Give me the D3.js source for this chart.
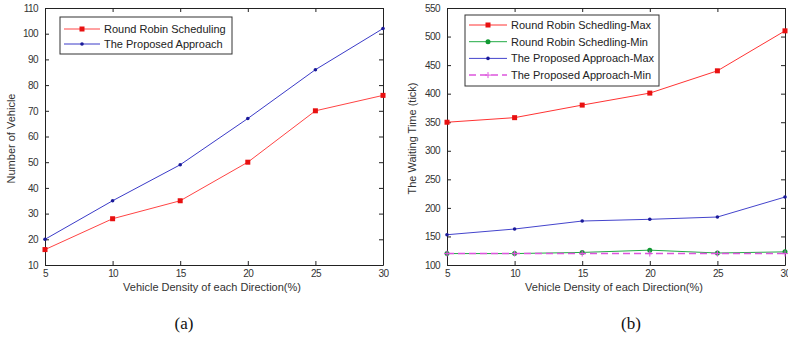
<!DOCTYPE html>
<html>
<head>
<meta charset="utf-8">
<script src="https://cdn.jsdelivr.net/npm/d3@7"></script>
<style>
  body { margin: 0; background: #fff; }
  svg { display: block; font-family: "Liberation Sans", Arial, sans-serif; }
  .tick text { fill: #333; font-size: 10px; letter-spacing: -0.6px; }
  .tick line { stroke: #222; }
  .domain { stroke: #222; }
</style>
</head>
<body>
<div id="chart"></div>
<script>
// shared x categories
const density = [5, 10, 15, 20, 25, 30];
const xTicks = [5, 10, 15, 20, 25, 30];

// (a) number of vehicles
const rrVehicles = [16, 28, 35, 50, 70, 76];
const proposedVehicles = [20, 35, 49, 67, 86, 102];
const yTicksA = [10, 20, 30, 40, 50, 60, 70, 80, 90, 100, 110];

// (b) waiting time
const rrMax = [350, 358, 380, 401, 440, 510];
const rrMin = [120, 120, 122, 126, 121, 123];
const proposedMax = [153, 163, 177, 180, 184, 219];
const proposedMin = [120, 120, 120, 120, 120, 120];
const yTicksB = [100, 150, 200, 250, 300, 350, 400, 450, 500, 550];

const W = 788, H = 338;
const svg = d3.select("#chart").append("svg").attr("width", W).attr("height", H);

// draws a marker of a given kind at (x,y)
function marker(g, kind, x, y, color) {
  if (kind === "square") {
    g.append("rect").attr("x", x - 2.5).attr("y", y - 2.5).attr("width", 5).attr("height", 5).attr("fill", color);
  } else if (kind === "dot") {
    g.append("circle").attr("cx", x).attr("cy", y).attr("r", 2.5).attr("fill", color);
  } else if (kind === "small") {
    g.append("circle").attr("cx", x).attr("cy", y).attr("r", 1.8).attr("fill", color);
  } else if (kind === "plus") {
    g.append("path").attr("d", `M${x - 3},${y}H${x + 3}M${x},${y - 3}V${y + 3}`).attr("stroke", color).attr("stroke-width", 1);
  }
}

function panel(opts) {
  const { x0, x1, y0, y1, yDomain, yTicks, series, yLabel, caption, captionX, legend, yLabelX } = opts;
  const g = svg.append("g");

  const x = d3.scaleLinear().domain([5, 30]).range([x0, x1]);
  const y = d3.scaleLinear().domain(yDomain).range([y1, y0]);

  // axes with inward ticks on all four sides (matlab box)
  g.append("g").attr("transform", `translate(0,${y1})`)
    .call(d3.axisBottom(x).tickValues(xTicks).tickSizeInner(-4).tickSizeOuter(0).tickPadding(5));
  g.append("g").attr("transform", `translate(${x0},0)`)
    .call(d3.axisLeft(y).tickValues(yTicks).tickSizeInner(-4).tickSizeOuter(0).tickPadding(7));
  g.append("g").attr("transform", `translate(0,${y0})`)
    .call(d3.axisTop(x).tickValues(xTicks).tickSizeInner(-4).tickSizeOuter(0).tickFormat(""));
  g.append("g").attr("transform", `translate(${x1},0)`)
    .call(d3.axisRight(y).tickValues(yTicks).tickSizeInner(-4).tickSizeOuter(0).tickFormat(""));

  // series
  series.forEach(s => {
    const line = d3.line().x((d, i) => x(density[i])).y(d => y(d));
    g.append("path").datum(s.values)
      .attr("fill", "none")
      .attr("stroke", s.color)
      .attr("stroke-width", s.width || 1)
      .attr("stroke-dasharray", s.dash || null)
      .attr("d", line);
    s.values.forEach((v, i) => marker(g, s.marker, x(density[i]), y(v), s.markerColor || s.color));
  });

  // axis titles
  g.append("text").attr("x", (x0 + x1) / 2 - 2).attr("y", y1 + 26)
    .attr("text-anchor", "middle").attr("font-size", 11).attr("fill", "#333")
    .text("Vehicle Density of each Direction(%)");
  g.append("text").attr("transform", `translate(${yLabelX},${(y0 + y1) / 2 + 2}) rotate(-90)`)
    .attr("text-anchor", "middle").attr("font-size", 11).attr("fill", "#333")
    .text(yLabel);

  // caption
  g.append("text").attr("x", captionX).attr("y", 329)
    .attr("text-anchor", "middle").attr("font-size", 17)
    .attr("font-family", "'Liberation Serif', 'Times New Roman', serif").attr("fill", "#111")
    .text(caption);

  // legend
  const lg = g.append("g");
  lg.append("rect").attr("x", legend.x).attr("y", legend.y).attr("width", legend.w).attr("height", legend.h)
    .attr("fill", "#fff").attr("stroke", "#333").attr("stroke-width", 1);
  series.forEach((s, i) => {
    const cy = legend.y + legend.first + i * legend.step;
    lg.append("line").attr("x1", legend.x + 4).attr("x2", legend.x + legend.lineW)
      .attr("y1", cy).attr("y2", cy).attr("stroke", s.color).attr("stroke-width", s.width || 1)
      .attr("stroke-dasharray", s.dash || null);
    marker(lg, s.marker, legend.x + 4 + (legend.lineW - 4) / 2, cy, s.markerColor || s.color);
    lg.append("text").attr("x", legend.x + legend.lineW + 4).attr("y", cy + 4)
      .attr("font-size", 11).attr("fill", "#222").text(s.name);
  });
}

panel({
  x0: 45, x1: 383, y0: 8, y1: 265,
  yDomain: [10, 110], yTicks: yTicksA,
  yLabel: "Number of Vehicle", yLabelX: 15,
  caption: "(a)", captionX: 184,
  legend: { x: 60, y: 17, w: 172, h: 37, first: 12, step: 15, lineW: 40 },
  series: [
    { name: "Round Robin Scheduling", values: rrVehicles, color: "#ff4444", markerColor: "#e81010", marker: "square" },
    { name: "The Proposed Approach", values: proposedVehicles, color: "#3b3bc8", markerColor: "#1a1a99", marker: "small" }
  ]
});

panel({
  x0: 447, x1: 785, y0: 8, y1: 265,
  yDomain: [100, 550], yTicks: yTicksB,
  yLabel: "The Waiting Time (tick)", yLabelX: 416,
  caption: "(b)", captionX: 631,
  legend: { x: 465, y: 15, w: 194, h: 71, first: 10, step: 16.7, lineW: 42 },
  series: [
    { name: "Round Robin Schedling-Max", values: rrMax, color: "#ff3333", markerColor: "#e81010", marker: "square" },
    { name: "Round Robin Schedling-Min", values: rrMin, color: "#22aa44", markerColor: "#119933", marker: "dot" },
    { name: "The Proposed Approach-Max", values: proposedMax, color: "#4444cc", markerColor: "#1a1a99", marker: "small" },
    { name: "The Proposed Approach-Min", values: proposedMin, color: "#dd55dd", marker: "plus", dash: "7,4", width: 1.5 }
  ]
});
</script>
</body>
</html>
